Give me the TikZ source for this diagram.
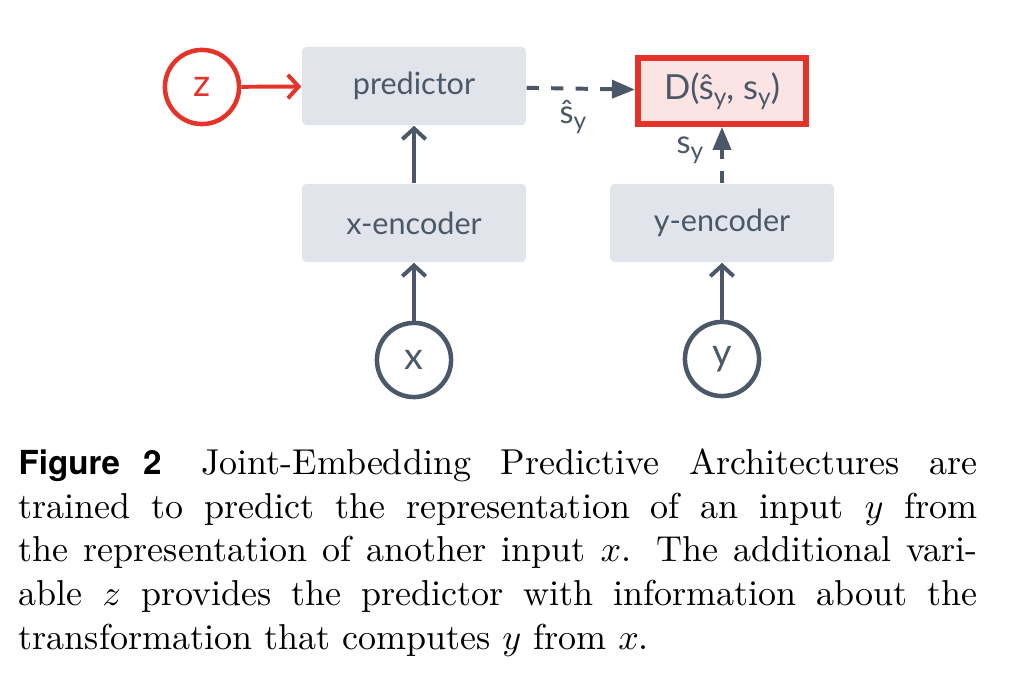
\documentclass[tikz,border=0pt]{standalone}
\usepackage{fontspec}
\newfontfamily\dfont{Lato}
\newfontfamily\hfont{TeX Gyre Heros}
\usetikzlibrary{arrows.meta}
\definecolor{slate}{HTML}{4A5867}
\definecolor{boxgray}{HTML}{E1E4EB}
\definecolor{jred}{HTML}{E5332A}
\definecolor{pinkfill}{HTML}{FCE4E5}
\newcommand\sbs[1]{\raisebox{-0.35ex}{\fontsize{6.8}{8}\selectfont #1}}
\begin{document}
\begin{tikzpicture}[x=0.2778pt,y=-0.2778pt,
  dtext/.style={text=slate, font=\dfont\fontsize{8.5}{10}\selectfont},
  blk/.style={dtext, fill=boxgray, rounded corners=1.2pt, minimum width=62.2pt, minimum height=21.7pt, inner sep=0pt},
  var/.style={dtext, font=\dfont\fontsize{10.5}{12}\selectfont, circle, draw=slate, line width=1.25pt, minimum size=20.6pt, inner sep=0pt},
  dbox/.style={dtext, font=\dfont\fontsize{9.6}{11}\selectfont, draw=jred, fill=pinkfill, line width=1.67pt, minimum width=46.7pt, minimum height=18.3pt, inner sep=0pt},
  lbl/.style={dtext, font=\dfont\fontsize{9}{10}\selectfont, inner sep=0pt},
  arr/.style={color=slate, line width=1.1pt, -{Straight Barb[length=3pt,width=6.5pt]}},
  darr/.style={color=slate, line width=1.1pt, dash pattern=on 3.4pt off 3.4pt, -{Triangle[length=6.4pt,width=5pt]}}
]
\useasboundingbox (0,0) rectangle (1010,688);
\node[var, draw=jred, text=jred] (z) at (202,87) {z};
\node[blk] (pred) at (414,86) {predictor};
\node[dbox] (D) at (722,91) {D(ŝ\sbs{y}, s\sbs{y})};
\node[blk] (xenc) at (414,223) {x-encoder};
\node[blk] (yenc) at (722,223) {y-encoder};
\node[var] (x) at (414,360) {x};
\node[var] (y) at (722,359) {y};
\node[lbl] (lh) at (573,117) {ŝ\sbs{y}};
\node[lbl] (ls) at (690,150) {s\sbs{y}};
\draw[arr, color=jred] (z) -- (pred);
\draw[arr] (xenc) -- (pred);
\draw[arr] (x) -- (xenc);
\draw[arr] (y) -- (yenc);
\draw[darr] (pred) -- (D);
\draw[darr] (yenc) -- (D);
\node[anchor=north west, inner sep=0pt, text width=266.4pt, align=justify, font=\fontsize{10}{12.15}\selectfont] (cap) at (18,448) {{\hfont\bfseries\fontsize{9.2}{12}\selectfont Figure 2}\hspace{1.1em}Joint-Embedding Predictive Architectures are\linebreak trained to predict the representation of an input $y$ from\linebreak the representation of another input $x$. The additional vari-\linebreak able $z$ provides the predictor with information about the\linebreak transformation that computes $y$ from $x$.};
\end{tikzpicture}
\end{document}
